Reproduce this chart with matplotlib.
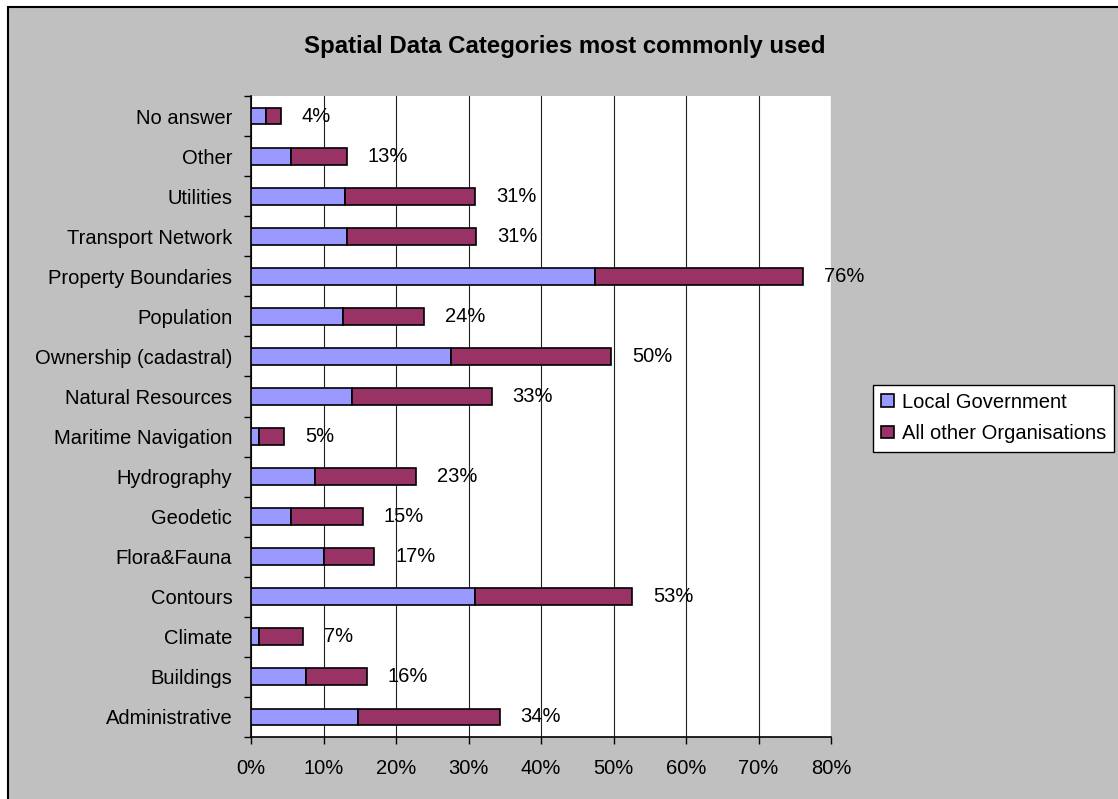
import matplotlib
matplotlib.use("Agg")
import matplotlib.pyplot as plt
from matplotlib.patches import Rectangle, Patch
from matplotlib.ticker import FixedLocator, FuncFormatter

# Survey results: share of respondents using each spatial data category (%)
categories = [
    "Administrative", "Buildings", "Climate", "Contours", "Flora&Fauna",
    "Geodetic", "Hydrography", "Maritime Navigation", "Natural Resources",
    "Ownership (cadastral)", "Population", "Property Boundaries",
    "Transport Network", "Utilities", "Other", "No answer",
]
local_government = [14.8, 7.6, 1.1, 30.9, 10.0, 5.5, 8.8, 1.1, 13.9,
                    27.6, 12.7, 47.5, 13.2, 13.0, 5.5, 2.0]
other_organisations = [19.5, 8.4, 6.1, 21.7, 7.0, 9.9, 14.0, 3.5, 19.3,
                       22.1, 11.2, 28.6, 17.9, 17.9, 7.7, 2.1]
series_names = ["Local Government", "All other Organisations"]
x_ticks = [0, 10, 20, 30, 40, 50, 60, 70, 80]

FONT = "Liberation Sans"
plt.rcParams["font.family"] = [FONT, "DejaVu Sans"]
GREY = "#C0C0C0"
C_LOCAL = "#9999FF"
C_OTHER = "#993366"
FS = 14.5

W, H = 1118, 799
fig = plt.figure(figsize=(W / 100, H / 100), dpi=100)
fig.patch.set_facecolor("white")

# chart area frame (grey, black rule on top and left)
fig.add_artist(Rectangle((8 / W, -0.05), 1.2, 1 - 7 / H + 0.05,
                         transform=fig.transFigure, facecolor=GREY,
                         edgecolor="black", linewidth=1.5, zorder=0))

ax = fig.add_axes([251 / W, 1 - 737 / H, (831 - 251) / W, (737 - 96) / H])
ax.set_facecolor("white")

y = list(range(len(categories)))
bar_h = 0.42
ax.barh(y, local_government, height=bar_h, color=C_LOCAL,
        edgecolor="black", linewidth=1.2, zorder=3)
ax.barh(y, other_organisations, left=local_government, height=bar_h,
        color=C_OTHER, edgecolor="black", linewidth=1.2, zorder=3)

totals = [a + b for a, b in zip(local_government, other_organisations)]
for yi, t in zip(y, totals):
    ax.annotate(f"{round(t):d}%", xy=(t, yi), xytext=(15, 0),
                textcoords="offset points", ha="left", va="center",
                fontsize=FS, zorder=4)

ax.set_xlim(0, 80)
ax.set_ylim(-0.5, len(categories) - 0.5)
ax.xaxis.set_major_locator(FixedLocator(x_ticks))
ax.xaxis.set_major_formatter(FuncFormatter(lambda v, p: f"{v:.0f}%"))
ax.grid(axis="x", color="#202020", linewidth=0.8, zorder=1)
ax.set_axisbelow(True)

ax.set_yticks(y)
ax.set_yticklabels(categories)
ax.yaxis.set_minor_locator(FixedLocator([i - 0.5 for i in range(len(categories) + 1)]))
ax.tick_params(axis="y", which="major", length=0, pad=13.5, labelsize=FS)
ax.tick_params(axis="y", which="minor", length=5, width=1, direction="out")
ax.tick_params(axis="x", which="major", length=5, width=1, direction="out",
               pad=11, labelsize=FS)

for s in ("top", "right"):
    ax.spines[s].set_visible(False)
for s in ("left", "bottom"):
    ax.spines[s].set_linewidth(1.2)

fig.text(565 / W, 1 - 46 / H, "Spatial Data Categories most commonly used",
         ha="center", va="center", fontsize=17.3, fontweight="bold")

handles = [Patch(facecolor=C_LOCAL, edgecolor="black", linewidth=1.2),
           Patch(facecolor=C_OTHER, edgecolor="black", linewidth=1.2)]
leg = fig.legend(handles, series_names, loc="center left",
                 bbox_to_anchor=(873 / W, 1 - 418 / H), fontsize=FS,
                 frameon=True, fancybox=False, handlelength=0.6,
                 handleheight=0.6, handletextpad=0.4, borderpad=0.42,
                 labelspacing=0.6, borderaxespad=0, framealpha=1)
leg.get_frame().set_edgecolor("black")
leg.get_frame().set_facecolor("white")
leg.get_frame().set_linewidth(1.0)

fig.savefig("out.png", dpi=100, facecolor=fig.get_facecolor())
